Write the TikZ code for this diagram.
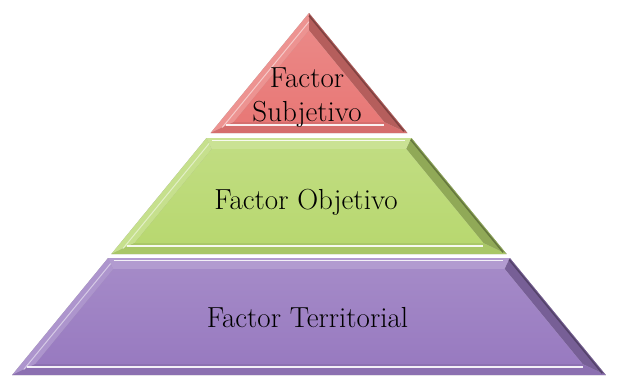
\documentclass[tikz,border=0pt]{standalone}
\usepackage{fontspec}
\usepackage{tikz}
\usetikzlibrary{calc}

\definecolor{subjred}{RGB}{232,120,118}
\definecolor{objgreen}{RGB}{184,216,112}
\definecolor{terrpurple}{RGB}{152,122,192}

% one bevelled slice of the pyramid: #1 top y, #2 bottom y, #3 colour
% (apex at (309,13), sides run 0.82 out per unit down, bevel 11 wide)
\newcommand{\pyrslice}[3]{%
  \pgfmathsetmacro{\hwOT}{0.82*(#1-13)}
  \pgfmathsetmacro{\hwOB}{0.82*(#2-13)}
  \pgfmathsetmacro{\yIT}{max(#1+11,13+1.577*11)}
  \pgfmathsetmacro{\yIB}{#2-11}
  \pgfmathsetmacro{\hwIT}{0.82*(\yIT-13)-1.293*11}
  \pgfmathsetmacro{\hwIB}{0.82*(\yIB-13)-1.293*11}
  \coordinate (otl) at ({309-\hwOT},#1);
  \coordinate (otr) at ({309+\hwOT},#1);
  \coordinate (obl) at ({309-\hwOB},#2);
  \coordinate (obr) at ({309+\hwOB},#2);
  \coordinate (itl) at ({309-\hwIT},\yIT);
  \coordinate (itr) at ({309+\hwIT},\yIT);
  \coordinate (ibl) at ({309-\hwIB},\yIB);
  \coordinate (ibr) at ({309+\hwIB},\yIB);
  % soft shadow to the lower right
  \foreach \dx/\dy/\op in {6/5/.08, 4/3.5/.12, 2.5/2/.2}
    \fill[black, opacity=\op, shift={(\dx,\dy)}] (otl) -- (otr) -- (obr) -- (obl) -- cycle;
  % bevel facets
  \fill[#3!75!white] (otl) -- (otr) -- (itr) -- (itl) -- cycle;
  \fill[#3!80!white] (otl) -- (itl) -- (ibl) -- (obl) -- cycle;
  \fill[#3!78!black] (otr) -- (itr) -- (ibr) -- (obr) -- cycle;
  \fill[#3!92!black] (obl) -- (ibl) -- (ibr) -- (obr) -- cycle;
  % face
  \shade[top color=#3!88!white, bottom color=#3] (itl) -- (itr) -- (ibr) -- (ibl) -- cycle;
  % edge lines on the bevel
  \draw[#3!55!black, line width=1.5pt] ($(otr)!.15!(itr)$) -- ($(obr)!.15!(ibr)$);
  \draw[white, line width=1pt, opacity=.5] ($(otl)!.5!(itl)$) -- ($(obl)!.5!(ibl)$);
  \ifdim #1pt>13pt
    \draw[white, line width=1.6pt, opacity=.85] ($(otl)!.5!(itl)+(3,-3)$) -- ($(otr)!.5!(itr)+(-4,-3)$);
  \fi
  \draw[white, line width=2pt, opacity=.9] ($(ibl)+(-8,3)$) -- ($(ibr)+(0,3)$);
}

\begin{document}
\begin{tikzpicture}[x=1pt, y=-1pt,
    pyrtext/.style={font=\fontsize{29}{34}\selectfont, align=center, inner sep=0pt}
]
    \useasboundingbox (0,0) rectangle (634,383);

    % the three slices, top to bottom
    \pyrslice{13}{133}{subjred}
    \pyrslice{138}{254}{objgreen}
    \pyrslice{258}{375}{terrpurple}

    % labels
    \node[pyrtext] (subj) at (307,98) {Factor\\Subjetivo};
    \node[pyrtext, anchor=base] (obj) at (306,209) {Factor Objetivo};
    \node[pyrtext, anchor=base] (terr) at (307.5,327) {Factor Territorial};
\end{tikzpicture}
\end{document}
